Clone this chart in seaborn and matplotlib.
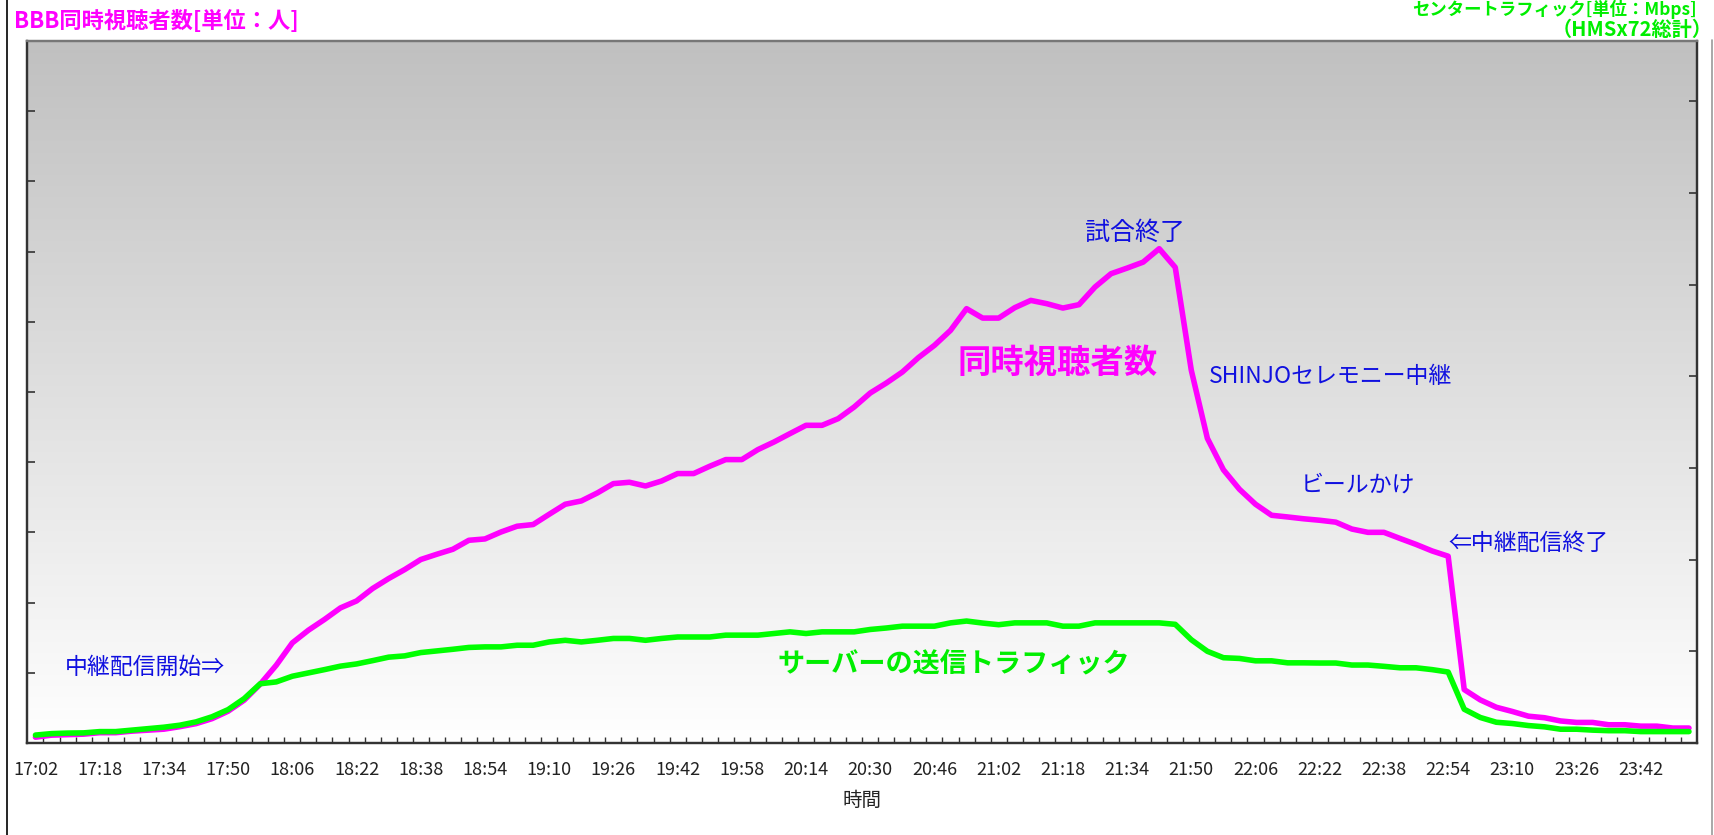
import numpy as np
import pandas as pd
import seaborn as sns
import matplotlib.pyplot as plt
from matplotlib.colors import LinearSegmentedColormap
from matplotlib.lines import Line2D

# one sample every 4 minutes, 17:02 .. 23:54
times = pd.date_range("17:02", periods=104, freq="4min").strftime("%H:%M").tolist()

# concurrent viewers (left axis)
viewers = [85, 114, 121, 128, 149, 149, 171, 185, 199, 235,
           278, 349, 455, 612, 840, 1110, 1428, 1608, 1761, 1926,
           2025, 2202, 2344, 2472, 2615, 2690, 2761, 2889, 2908, 3007,
           3089, 3113, 3259, 3402, 3449, 3563, 3696, 3715, 3662, 3733,
           3839, 3839, 3943, 4038, 4038, 4180, 4288, 4408, 4526, 4526,
           4621, 4787, 4986, 5128, 5285, 5490, 5665, 5878, 6187, 6053,
           6053, 6201, 6305, 6258, 6196, 6244, 6495, 6685, 6765, 6850,
           7041, 6775, 5309, 4341, 3893, 3615, 3402, 3245, 3221, 3195,
           3174, 3147, 3049, 3002, 3002, 2915, 2830, 2737, 2662, 763,
           616, 511, 451, 384, 362, 316, 295, 295, 262, 262,
           242, 242, 215, 215]

# server traffic in Mbps (right axis)
traffic = [44, 52, 55, 56, 63, 63, 71, 79, 87, 98,
           116, 144, 183, 243, 324, 334, 365, 383, 401, 420,
           432, 450, 469, 476, 494, 503, 512, 522, 525, 525,
           534, 534, 552, 561, 552, 561, 571, 571, 561, 571,
           579, 579, 579, 589, 589, 589, 598, 607, 598, 607,
           607, 607, 620, 628, 638, 638, 638, 656, 666, 655,
           646, 656, 656, 656, 638, 638, 656, 656, 656, 656,
           656, 648, 564, 501, 466, 462, 449, 449, 438, 438,
           437, 437, 426, 426, 419, 411, 411, 401, 388, 185,
           140, 114, 107, 96, 89, 76, 76, 71, 68, 68,
           63, 63, 63, 63]

df = pd.DataFrame({"idx": range(len(times)), "time": times,
                   "viewers": viewers, "traffic": traffic})

sns.set_theme(style="white")
plt.rcParams['font.family'] = ['Noto Sans CJK JP', 'DejaVu Sans']

fig, ax = plt.subplots(figsize=(17.15, 8.35), dpi=100)
fig.subplots_adjust(left=0.016, right=0.9895, top=0.951, bottom=0.110)

vmax = 10000
tmax = 3830
n = len(times)

# grey -> white gradient behind the plot
grad = LinearSegmentedColormap.from_list("bg", ["#ffffff", "#c0c0c0"])
ax.imshow(np.linspace(0, 1, 256).reshape(-1, 1), cmap=grad, origin="lower",
          extent=[-0.5, n - 0.5, 0, vmax], aspect="auto", zorder=0)

sns.lineplot(data=df, x="idx", y="viewers", ax=ax, color="#ff00ff", lw=4,
             solid_joinstyle="round", solid_capstyle="round", zorder=3)

ax2 = ax.twinx()
sns.lineplot(data=df, x="idx", y="traffic", ax=ax2, color="#00ff00", lw=4,
             solid_joinstyle="round", solid_capstyle="round", zorder=3)

ax.set_xlim(-0.5, n - 0.5)
ax.set_ylim(0, vmax)
ax2.set_ylim(0, tmax)

# x axis: labels every 16 min, small marks between categories
ax.set_xticks(df["idx"][::4])
ax.set_xticklabels(df["time"][::4], fontsize=13, color="#222222")
ax.set_xticks(np.arange(0.5, n - 1, 1), minor=True)
ax.tick_params(axis="x", which="major", length=0, pad=13)
ax.tick_params(axis="x", which="minor", direction="in", length=4, width=1,
               color="#333333", bottom=True)
ax.set_xlabel("時間", fontsize=14, labelpad=8, color="#222222")

ax.set_yticks(np.arange(0, vmax + 1, 1000))
ax.tick_params(axis="y", direction="in", length=6, width=1.2, color="#333333",
               labelleft=False, left=True)
ax.set_ylabel("")
ax2.set_yticks(np.arange(0, 3501, 500))
ax2.tick_params(axis="y", direction="in", length=6, width=1.2, color="#333333",
                labelright=False, right=True)
ax2.set_ylabel("")

for a in (ax, ax2):
    for side in ("left", "bottom", "right"):
        a.spines[side].set_color("#333333")
        a.spines[side].set_linewidth(1.6)
    a.spines["top"].set_color("#777777")
    a.spines["top"].set_linewidth(1.6)

# annotations
blue = "#1010e0"
ax2.text(68.5, 7263 * tmax / vmax, "試合終了", color=blue, fontsize=18,
         ha="center", va="center")
ax2.text(63.7, 5404 * tmax / vmax, "同時視聴者数", color="#ff00ff", fontsize=24,
         fontweight="bold", ha="center", va="center")
ax2.text(73.1, 5224 * tmax / vmax, "SHINJOセレモニー中継", color=blue, fontsize=16.5,
         ha="left", va="center")
ax2.text(78.8, 3678 * tmax / vmax, "ビールかけ", color=blue, fontsize=16.5,
         ha="left", va="center")
ax2.text(88.0, 2842 * tmax / vmax, "⇐中継配信終了", color=blue, fontsize=16.5,
         ha="left", va="center")
ax2.text(1.8, 1072 * tmax / vmax, "中継配信開始⇒", color=blue, fontsize=16.5,
         ha="left", va="center")
ax2.text(46.2, 1134 * tmax / vmax, "サーバーの送信トラフィック", color="#00ee00",
         fontsize=19.5, fontweight="bold", ha="left", va="center")

# titles above the plot
fig.text(14 / 1715, 1 - 21 / 835, "BBB同時視聴者数[単位：人]", color="#ff00ff",
         fontsize=16, fontweight="bold", ha="left", va="center")
fig.text(1697 / 1715, 1 - 9 / 835, "センタートラフィック[単位：Mbps]", color="#00ee00",
         fontsize=12.5, fontweight="bold", ha="right", va="center")
fig.text(1713 / 1715, 1 - 29 / 835, "（HMSx72総計）", color="#00ee00",
         fontsize=14.5, fontweight="bold", ha="right", va="center")

# frame lines at the edges of the picture
fig.add_artist(Line2D([7 / 1715, 7 / 1715], [0, 1], color="black", lw=1.2,
                      transform=fig.transFigure))
fig.add_artist(Line2D([1712 / 1715, 1712 / 1715], [0, 1 - 40 / 835], color="#999999",
                      lw=1.2, transform=fig.transFigure))

fig.savefig("out.png", dpi=100)
